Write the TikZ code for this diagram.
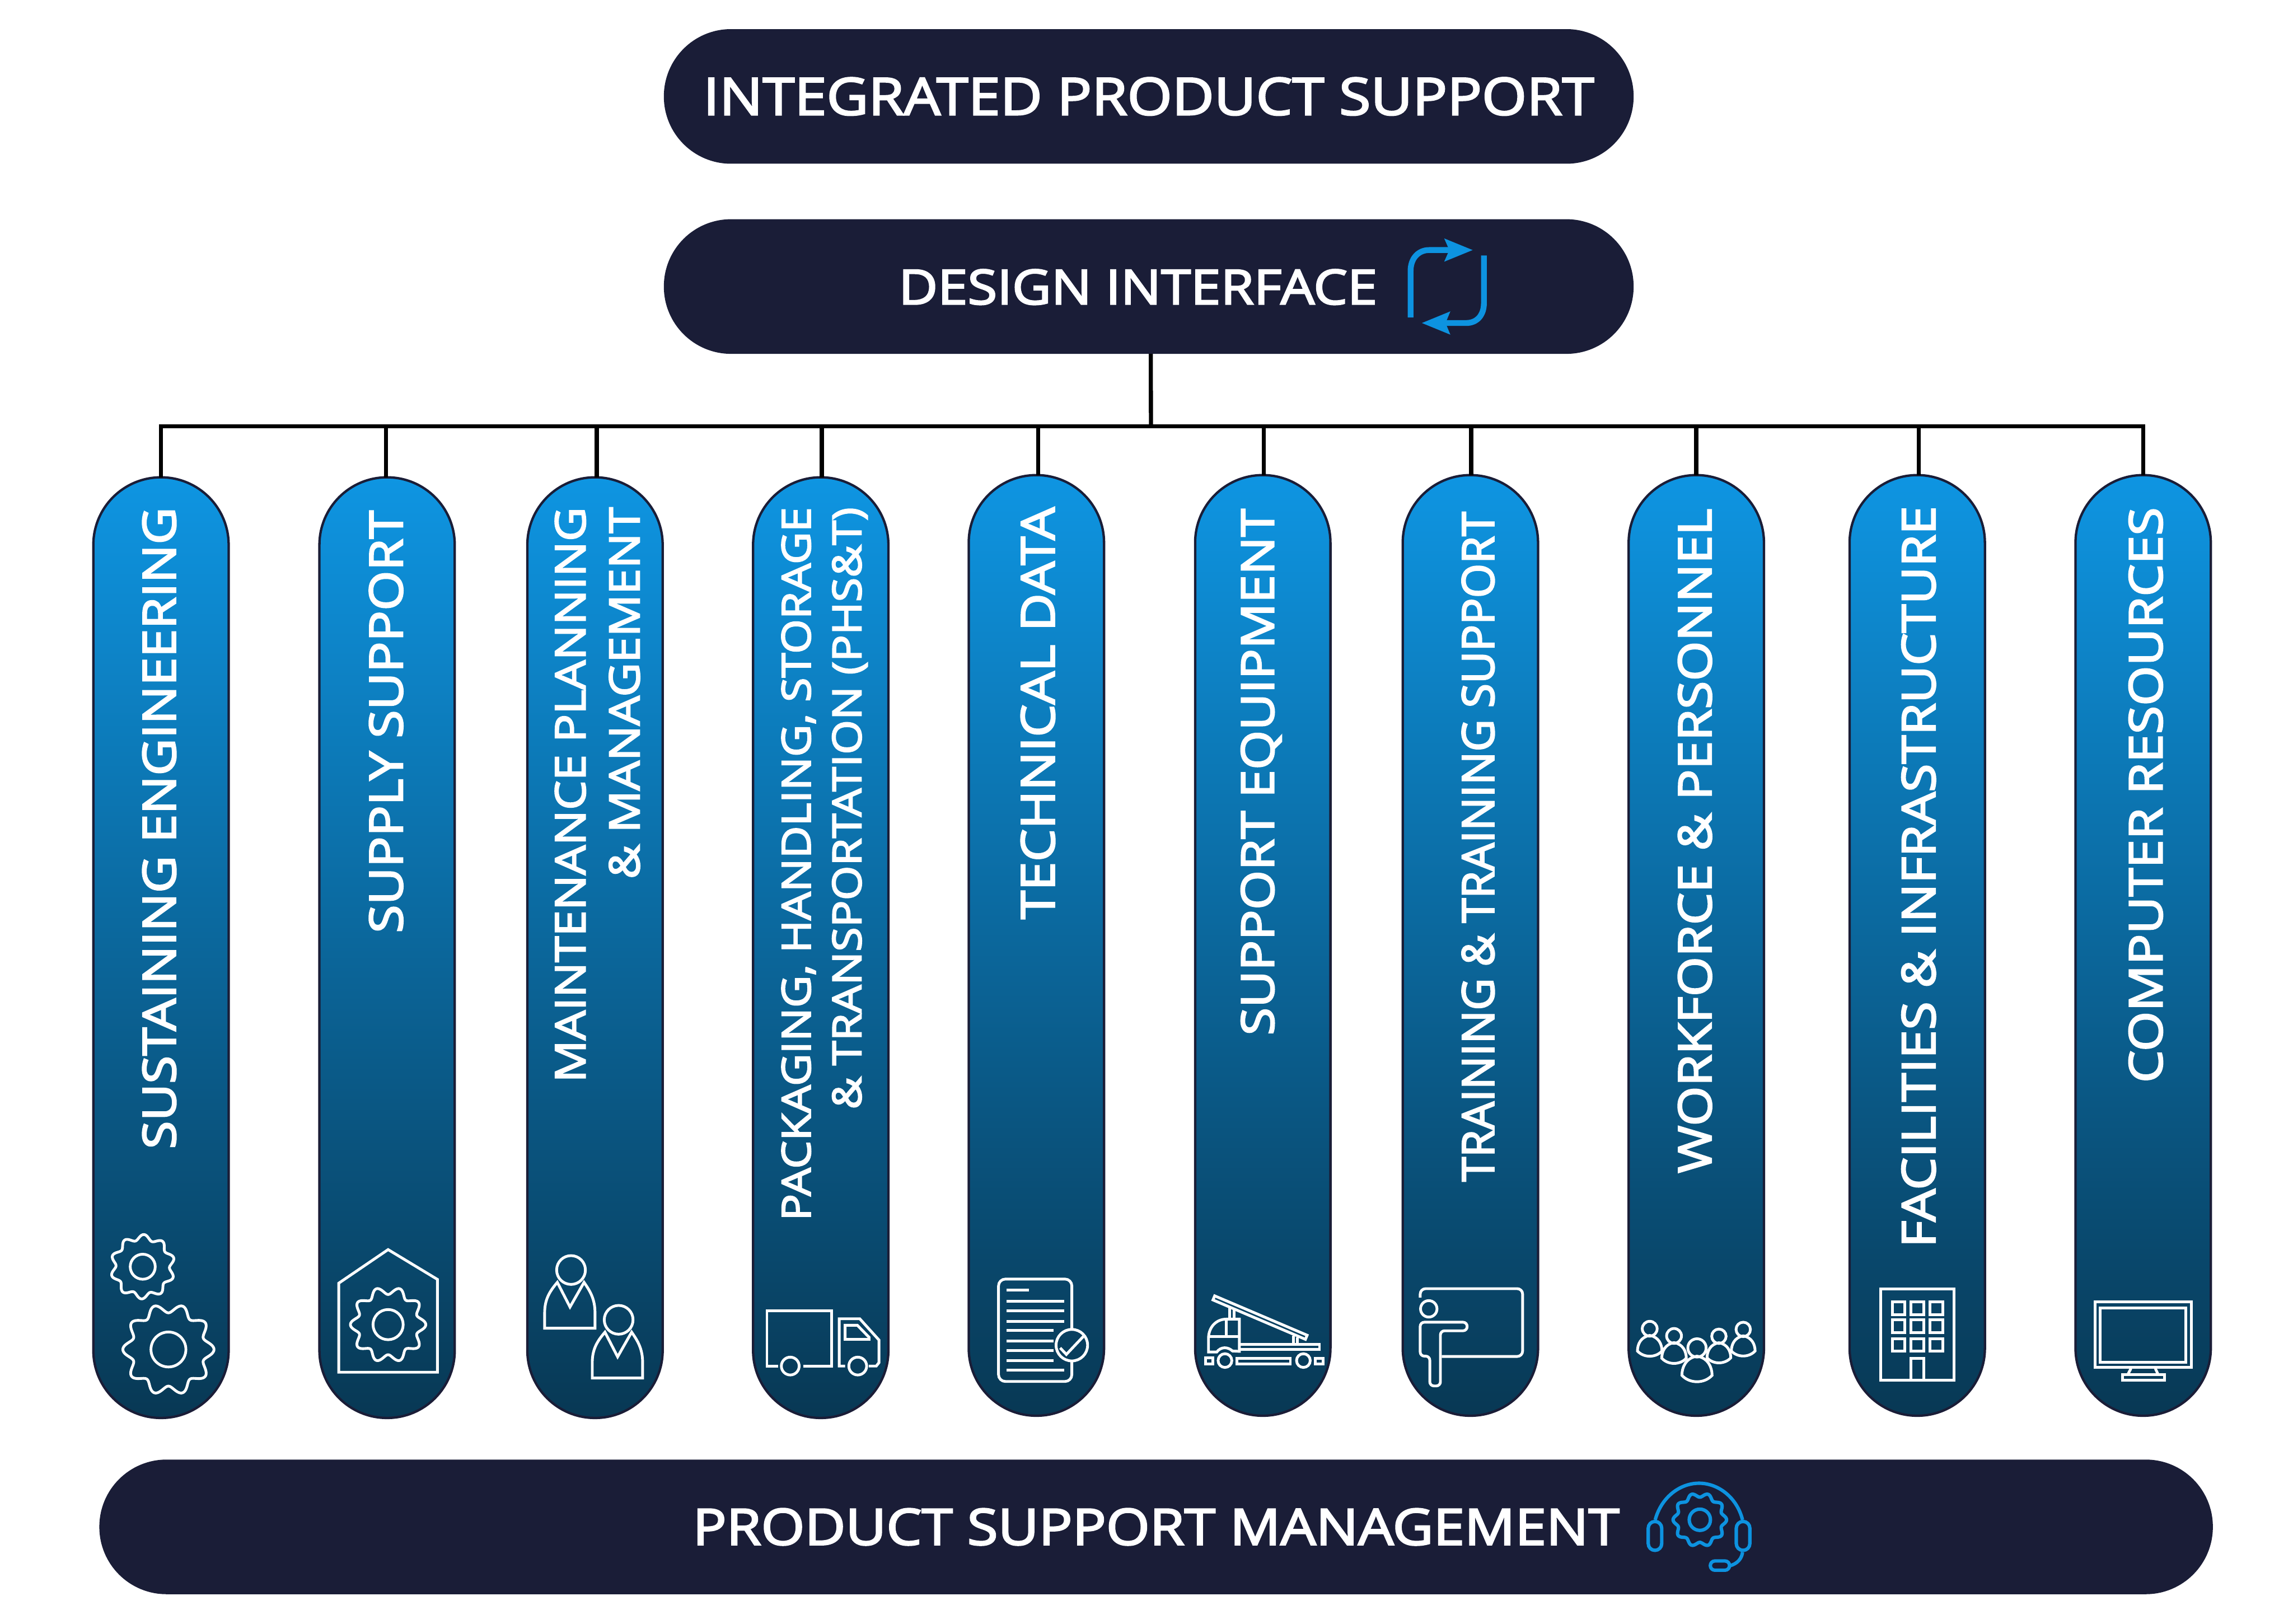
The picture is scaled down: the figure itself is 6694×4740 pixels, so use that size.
\documentclass[tikz,border=0pt]{standalone}
\usepackage{fontspec}
\setmainfont{Open Sans}[FakeBold=3.2,FakeStretch=1.12]
\newfontfamily\plainw{Open Sans}[FakeBold=3.2]
\definecolor{navy}{HTML}{1A1D37}
\definecolor{sky}{HTML}{0D93E0}
\definecolor{pilltop}{HTML}{0E95E2}
\definecolor{pillbot}{HTML}{083854}
\newcommand{\fsz}[1]{\fontsize{#1}{#1}\selectfont}
\tikzset{
  x=0.25pt,y=-0.25pt,
  pill/.style={draw=navy,line width=1.75pt,top color=pilltop,bottom color=pillbot,middle color=pilltop!50!pillbot,
    minimum width=98.75pt,minimum height=686.5pt,rounded corners=49.3pt,inner sep=0pt,outer sep=0pt},
  band/.style={fill=navy,rounded corners=49pt,inner sep=0pt,outer sep=0pt,text=white,minimum height=98.25pt},
  lab/.style={text=white,inner sep=0pt,outer sep=0pt,rotate=90,anchor=east,align=right},
  ico/.style={draw=white,line width=2pt,line join=miter},
  bico/.style={draw=sky,line width=2.5pt,line join=round},
  conn/.style={draw=black,line width=3pt},
}
\newcommand{\gearicon}[8]{% cx cy peak valley rot hole style teeth
  \pgfmathsetmacro{\gm}{(#3+#4)/2}\pgfmathsetmacro{\ga}{(#3-#4)/2}
  \draw[#7,line join=round] plot[domain=0:360,samples=361,smooth] ({#1+(\gm+\ga*cos(#8*(\x-#5)))*cos(\x)},{#2-(\gm+\ga*cos(#8*(\x-#5)))*sin(\x)}) -- cycle;
  \draw[#7] (#1,#2) circle[radius=#6];
}
\newcommand{\manicon}[2]{% head centre
  \draw[ico] (#1,#2) circle[radius=42];
  \draw[ico] (#1-40,#2+36) .. controls (#1-62,#2+62) and (#1-77,#2+85) .. (#1-77,#2+125)
     -- (#1-77,#2+170) -- (#1+70,#2+170) -- (#1+70,#2+125) .. controls (#1+70,#2+85) and (#1+56,#2+62) .. (#1+38,#2+36)
     -- (#1-3,#2+108) -- cycle;
}
\newcommand{\grp}[3]{% head x y r
  \draw[ico] (#1,#2) circle[radius=#3];
  \draw[ico] (#1,#2+.9*#3) .. controls (#1-1.2*#3,#2+1.1*#3) and (#1-1.65*#3,#2+2.1*#3) .. (#1-1.65*#3,#2+3*#3)
    .. controls (#1-.8*#3,#2+3.93*#3) and (#1+.8*#3,#2+3.93*#3) .. (#1+1.65*#3,#2+3*#3)
    .. controls (#1+1.65*#3,#2+2.1*#3) and (#1+1.2*#3,#2+1.1*#3) .. (#1,#2+.9*#3) -- cycle;
}
\begin{document}
\begin{tikzpicture}
\useasboundingbox (0,0) rectangle (6694,4740);
% bands
\node[band,minimum width=707.75pt] (ips) at (3353.5,281.5) {\fsz{37.5}INTEGRATED PRODUCT SUPPORT};
\node[band,minimum width=707.75pt] (dsg) at (3353.5,836.5) {};
\node[text=white,inner sep=0pt] (dsgt) at (3322,838) {\fsz{35}DESIGN INTERFACE};
\node[band,minimum width=1542.5pt] (psm) at (3375,4457.5) {\fsz{36.5}PRODUCT SUPPORT MANAGEMENT};
% pills
\foreach \n/\cx/\cy in {1/470/2766.5,2/1130/2766.5,3/1737/2766.5,4/2396/2766.5,5/3025.5/2760,6/3686.5/2760,7/4292.5/2760,8/4952/2760,9/5597/2760,10/6256.5/2760}
  \node[pill] (p\n) at (\cx,\cy) {};
% connectors
\coordinate (hub) at (3360,1244);
\draw[conn] ([xshift=1.5pt]dsg.south) -- (hub);
\draw[conn,line join=miter] (p1.north) |- (hub) -| (p10.north);
\foreach \n/\s in {2/-0.75,3/1.25,4/0.75,5/1.4,6/0.6,7/0.6,8/0,9/1}
  \draw[conn] ([xshift=\s pt]p\n.north) -- ([xshift=\s pt]p\n.north |- hub);
% pill labels
\node[lab] (t1) at (465,1481) {\fsz{33.3}SUSTAINING ENGINEERING};
\node[lab] (t2) at (1127,1490) {\fsz{33.5}SUPPLY SUPPORT};
\node[lab,font=\fontsize{30.5}{39.5}\selectfont] (t3) at (1744,1481) {MAINTENANCE PLANNING\\\& MANAGEMENT};
\node[lab,font=\fontsize{29}{37}\selectfont] (t4) at (2407,1481) {PACKAGING, HANDLING, STORAGE\\\& TRANSPORTATION (PHS\&T)};
\node[lab] (t5) at (3030,1481) {\fsz{33.8}TECHNICAL DATA};
\node[lab] (t6) at (3682,1485) {\fsz{33}SUPPORT EQUIPMENT};
\node[lab] (t7) at (4315,1494) {\plainw\fsz{32.3}TRAINING \& TRAINING SUPPORT};
\node[lab] (t8) at (4948,1485) {\fsz{33.4}WORKFORCE \& PERSONNEL};
\node[lab] (t9) at (5601,1477) {\fsz{33.7}FACILITIES \& INFRASTRUCTURE};
\node[lab] (t10) at (6264,1481) {\fsz{33.5}COMPUTER RESOURCES};
% design icon
\draw[sky,line width=4.25pt] (4118,927) -- (4118,790) .. controls (4118,755) and (4140,730) .. (4172,730) -- (4235,730);
\fill[sky] (4299,730) -- (4216,696) -- (4231,730) -- (4216,764) -- cycle;
\draw[sky,line width=4.25pt] (4332,746) -- (4332,885) .. controls (4332,920) and (4312,943) .. (4280,943) -- (4215,943);
\fill[sky] (4151,943) -- (4234,909) -- (4220,943) -- (4234,977) -- cycle;
% headset icon
\gearicon{4962.3}{4436.7}{78}{66}{0}{31}{bico}{10}
\draw[bico] (4832,4437) .. controls (4850,4370) and (4905,4330) .. (4960,4330) .. controls (5015,4330) and (5070,4370) .. (5087,4437);
\draw[bico,rounded corners=4.9pt] (4811.7,4441.7) rectangle (4851,4526);
\draw[bico,rounded corners=4.9pt] (5068.7,4441.7) rectangle (5108.3,4526);
\draw[bico] (5087,4531) .. controls (5085,4550) and (5072,4565) .. (5050,4571);
\draw[bico,rounded corners=3.3pt] (4993,4557) rectangle (5049,4584);
% gears
\gearicon{416.7}{3698}{94}{78}{16}{36.5}{ico}{10}
\gearicon{491.7}{3939.6}{133}{107}{0}{51}{ico}{10}
% house
\draw[ico] (989,4006) -- (989,3746) -- (1133,3648) -- (1277,3735) -- (1277,4006) -- cycle;
\gearicon{1133}{3867}{110}{88}{0}{44}{ico}{10}
% people
\manicon{1667}{3707.6}
\manicon{1806}{3853}
% truck
\draw[ico] (2271,3988) -- (2239,3988) -- (2239,3827) -- (2427,3827) -- (2427,3988) -- (2345,3988);
\draw[ico] (2307,3988) circle[radius=26];
\draw[ico] (2504,3988) circle[radius=26];
\draw[ico] (2467,3988) -- (2450,3988) -- (2450,3850) -- (2510,3850) -- (2566,3912) -- (2566,3978) -- (2558,3988) -- (2536,3988);
\draw[ico] (2467,3869) -- (2503,3869) -- (2537,3904) -- (2537,3910) -- (2467,3910) -- cycle;
% document
\draw[ico,rounded corners=5pt] (3129,3881) -- (3129,3734) -- (2915,3734) -- (2915,4033) -- (3129,4033) -- (3129,3973);
\foreach \yy/\xx in {3766.5/3003,3799/3107,3826.5/3107,3857/3107,3884/3075,3914.6/3075,3942/3075,3972/3075,3999.5/3107}
  \draw[ico] (2939,\yy) -- (\xx,\yy);
\draw[ico] (3129,3927) circle[radius=46];
\draw[ico] (3095,3935) -- (3113,3954) -- (3164,3900);
% crane
\draw[ico] (3546,3783) -- (3816,3898) -- (3811,3910) -- (3541,3795) -- cycle;
\draw[ico] (3589,3818) -- (3589,3848) (3602,3824) -- (3602,3848) (3776,3900) -- (3776,3920) (3788,3905) -- (3788,3920);
\draw[ico] (3528,3947) -- (3528,3907) .. controls (3528,3875) and (3550,3851) .. (3580,3851) -- (3618,3851) -- (3618,3945) -- (3598,3944) .. controls (3585,3932) and (3565,3930) .. (3552,3947) -- cycle;
\draw[ico] (3528,3902) -- (3618,3902) (3580,3851) -- (3580,3902);
\draw[ico] (3622,3925) -- (3852,3925) -- (3852,3940) -- (3622,3940);
\draw[ico] (3576,3972) circle[radius=20] (3805,3972) circle[radius=20];
\draw[ico] (3519,3964) rectangle (3541,3982) (3611,3965) rectangle (3767,3982) (3840,3965) rectangle (3863,3982);
% training
\draw[ico,rounded corners=4pt] (4146,3788) -- (4146,3762) -- (4445,3762) -- (4445,3960) -- (4209,3960);
\draw[ico] (4171,3821) circle[radius=24];
\draw[ico,rounded corners=3pt] (4146,3959) -- (4146,3860) -- (4283,3860) -- (4283,3885) -- (4205,3885) -- (4205,4046) -- (4174,4046) -- (4174,3959) -- cycle;
% group
\grp{4816}{3879}{21.7}
\grp{5089}{3881}{21}
\grp{4887}{3900}{21.7}
\grp{5018}{3901}{21}
\grp{4954}{3935}{26.7}
% building
\draw[ico] (5490,3763) rectangle (5705,4030);
\foreach \wx in {5524,5579,5634}
  \foreach \wy in {3801,3853,3908}
    \draw[ico] (\wx,\wy) rectangle +(37,37);
\draw[ico] (5579,3966) rectangle (5616,4030);
% monitor
\draw[ico] (6116,3801) rectangle (6397,3991);
\draw[ico] (6131,3819) rectangle (6381,3977);
\draw[ico] (6221,3995) -- (6213,4010) (6292,3995) -- (6299,4010);
\draw[ico] (6196,4013) rectangle (6319,4030);
\end{tikzpicture}
\end{document}
